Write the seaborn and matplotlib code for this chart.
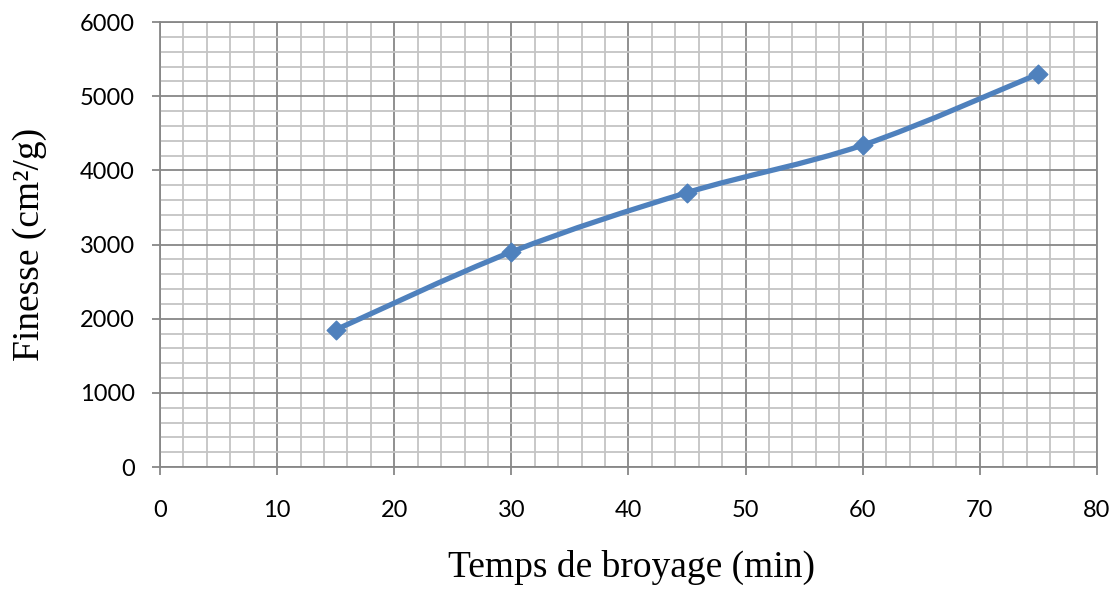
import numpy as np
import pandas as pd
import matplotlib
matplotlib.use("Agg")
import matplotlib.pyplot as plt
from matplotlib.path import Path
from matplotlib.patches import PathPatch
from matplotlib.ticker import MultipleLocator
import seaborn as sns

# Grinding time (min) and resulting fineness (cm²/g)
temps = [15, 30, 45, 60, 75]
finesse = [1850, 2900, 3700, 4340, 5300]

x_ticks = [0, 10, 20, 30, 40, 50, 60, 70, 80]
y_ticks = [0, 1000, 2000, 3000, 4000, 5000, 6000]

x_label = "Temps de broyage (min)"
y_label = "Finesse (cm²/g)"

line_color = "#4F81BD"
major_grid = "#878787"
minor_grid = "#C4C4C4"

sns.set_theme(style="white")
plt.rcParams["font.family"] = ["Lato", "DejaVu Sans"]

df = pd.DataFrame({"temps": temps, "finesse": finesse})

fig = plt.figure(figsize=(11.18, 5.89), dpi=100)
ax = fig.add_axes([0.1431, 0.2071, 0.9812 - 0.1431, 0.9626 - 0.2071])

ax.set_xlim(x_ticks[0], x_ticks[-1])
ax.set_ylim(y_ticks[0], y_ticks[-1])
ax.set_xticks(x_ticks)
ax.set_yticks(y_ticks)
ax.xaxis.set_minor_locator(MultipleLocator(2))
ax.yaxis.set_minor_locator(MultipleLocator(200))

ax.set_axisbelow(True)
ax.grid(which="minor", color=minor_grid, linewidth=1.3)
ax.grid(which="major", color=major_grid, linewidth=1.3)

for side in ["left", "bottom", "right", "top"]:
    ax.spines[side].set_visible(True)
    ax.spines[side].set_color(major_grid)
    ax.spines[side].set_linewidth(1.3)

ax.tick_params(which="major", direction="out", length=6, width=1.3,
               color=major_grid, labelsize=17, labelcolor="black")
ax.tick_params(which="minor", length=0)
ax.tick_params(axis="x", which="major", pad=18)
ax.tick_params(axis="y", which="major", pad=12)
ax.tick_params(axis="both", bottom=True, left=True, top=False, right=False)

# Smoothed connecting curve (cubic Bezier segments, Catmull-Rom style)
pts = np.column_stack([temps, finesse]).astype(float)
ext = np.vstack([pts[0], pts, pts[-1]])
verts = [tuple(pts[0])]
codes = [Path.MOVETO]
for i in range(len(pts) - 1):
    p0, p1, p2, p3 = ext[i], ext[i + 1], ext[i + 2], ext[i + 3]
    c1 = p1 + (p2 - p0) / 6.0
    c2 = p2 - (p3 - p1) / 6.0
    verts += [tuple(c1), tuple(c2), tuple(p2)]
    codes += [Path.CURVE4, Path.CURVE4, Path.CURVE4]
curve = PathPatch(Path(verts, codes), facecolor="none", edgecolor=line_color,
                  linewidth=3.8, capstyle="round", joinstyle="round", zorder=3)
ax.add_patch(curve)

sns.scatterplot(data=df, x="temps", y="finesse", ax=ax, marker="D", s=90,
                color=line_color, edgecolor=line_color, linewidth=1, zorder=4,
                legend=False)

ax.set_xlabel("")
ax.set_ylabel("")
fig.text(0.5645, 0.0204, x_label, family=["Liberation Serif", "DejaVu Serif"],
         fontsize=27, ha="center", va="baseline", color="black")
fig.text(0.027, 0.585, y_label, family=["Liberation Serif", "DejaVu Serif"],
         fontsize=27, ha="center", va="center", rotation=90, color="black")

fig.savefig("out.png", dpi=100)
